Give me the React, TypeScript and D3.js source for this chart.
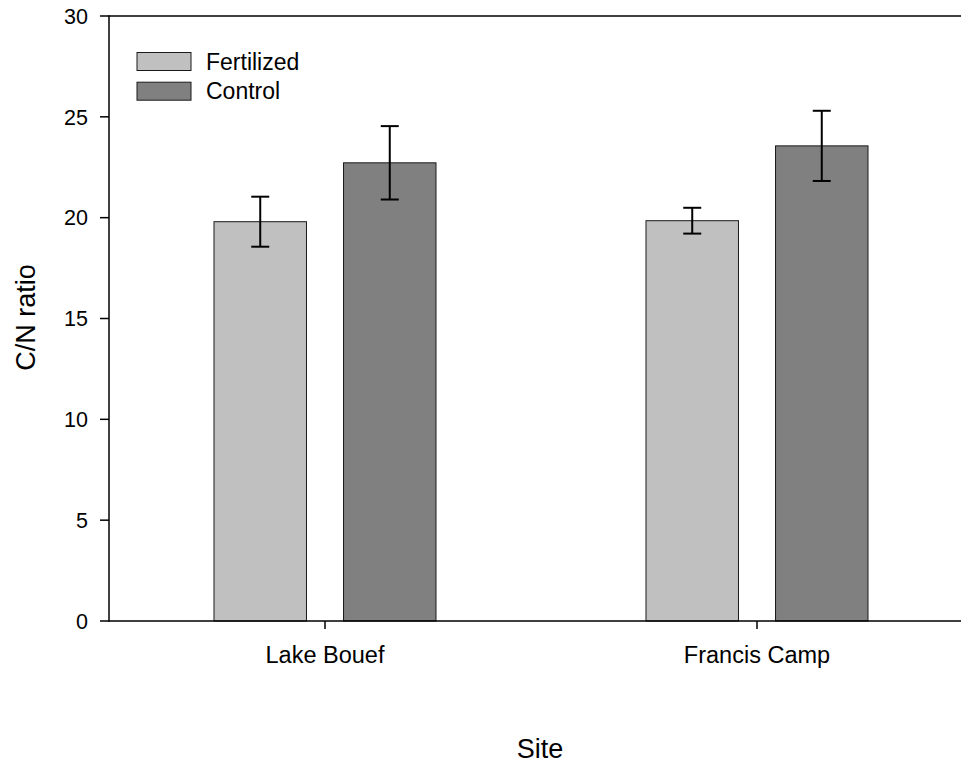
import React from "react";
import * as d3 from "d3";

const sites = ["Lake Bouef", "Francis Camp"];
const treatments = ["Fertilized", "Control"];
const fertilizedMean = [19.8, 19.85];
const fertilizedErr = [1.24, 0.64];
const controlMean = [22.72, 23.56];
const controlErr = [1.82, 1.74];
const yTicks = [0, 5, 10, 15, 20, 25, 30];
const fills = ["#c0c0c0", "#808080"];

const W = 961;
const H = 763;
const FONT = "'Liberation Sans', Arial, Helvetica, sans-serif";

export default function App() {
  const left = 109;
  const top = 16;
  const bottom = 621;

  const y = d3.scaleLinear().domain([0, 30]).range([bottom, top]);
  const x = d3.scaleBand<string>().domain(sites).range([left, 973]).padding(0);
  const sub = d3
    .scaleBand<string>()
    .domain(treatments)
    .range([-111, 111])
    .paddingInner(0.286)
    .paddingOuter(0);

  const rows = sites.map((s, i) => ({
    site: s,
    vals: [
      { t: treatments[0], m: fertilizedMean[i], e: fertilizedErr[i], fill: fills[0] },
      { t: treatments[1], m: controlMean[i], e: controlErr[i], fill: fills[1] },
    ],
  }));

  const cap = 9;

  return (
    <svg
      width={W}
      height={H}
      style={{ position: "absolute", left: 0, top: 0, background: "#fff" }}
      fontFamily={FONT}
    >
      {/* bars and error bars */}
      {rows.map((r) => {
        const cx = (x(r.site) as number) + x.bandwidth() / 2;
        return (
          <g key={r.site}>
            {r.vals.map((v) => {
              const x0 = cx + (sub(v.t) as number);
              const bw = sub.bandwidth();
              const mid = x0 + bw / 2;
              return (
                <g key={v.t}>
                  <rect
                    x={x0}
                    y={y(v.m)}
                    width={bw}
                    height={bottom - y(v.m)}
                    fill={v.fill}
                    stroke="#1a1a1a"
                    strokeWidth={1}
                  />
                  <line x1={mid} x2={mid} y1={y(v.m + v.e)} y2={y(v.m - v.e)} stroke="#000" strokeWidth={2} />
                  <line x1={mid - cap} x2={mid + cap} y1={y(v.m + v.e)} y2={y(v.m + v.e)} stroke="#000" strokeWidth={2} />
                  <line x1={mid - cap} x2={mid + cap} y1={y(v.m - v.e)} y2={y(v.m - v.e)} stroke="#000" strokeWidth={2} />
                </g>
              );
            })}
          </g>
        );
      })}

      {/* axes frame */}
      <line x1={left} x2={W} y1={top} y2={top} stroke="#000" strokeWidth={1.5} />
      <line x1={left} x2={left} y1={top - 0.75} y2={bottom + 0.75} stroke="#000" strokeWidth={1.5} />
      <line x1={left} x2={W} y1={bottom} y2={bottom} stroke="#000" strokeWidth={1.5} />

      {/* y ticks */}
      {yTicks.map((t) => (
        <g key={t}>
          <line x1={left - 9} x2={left} y1={y(t)} y2={y(t)} stroke="#000" strokeWidth={1.5} />
          <text x={88} y={y(t)} dy="0.36em" textAnchor="end" fontSize={21.5} fill="#000">
            {t}
          </text>
        </g>
      ))}

      {/* x ticks */}
      {sites.map((s) => {
        const cx = (x(s) as number) + x.bandwidth() / 2;
        return (
          <g key={s}>
            <line x1={cx} x2={cx} y1={bottom} y2={bottom + 8} stroke="#000" strokeWidth={1.5} />
            <text x={cx} y={662.5} textAnchor="middle" fontSize={23.5} fill="#000">
              {s}
            </text>
          </g>
        );
      })}

      {/* axis titles */}
      <text x={540} y={757.5} textAnchor="middle" fontSize={27} fill="#000">
        Site
      </text>
      <text
        transform={`translate(35, 317.5) rotate(-90)`}
        textAnchor="middle"
        fontSize={27}
        fill="#000"
      >
        C/N ratio
      </text>

      {/* legend */}
      {treatments.map((t, i) => (
        <g key={t} transform={`translate(137, ${52.5 + i * 29.7})`}>
          <rect x={0} y={0} width={54} height={18} fill={fills[i]} stroke="#1a1a1a" strokeWidth={1} />
          <text x={69} y={17} fontSize={23} fill="#000">
            {t}
          </text>
        </g>
      ))}
    </svg>
  );
}
